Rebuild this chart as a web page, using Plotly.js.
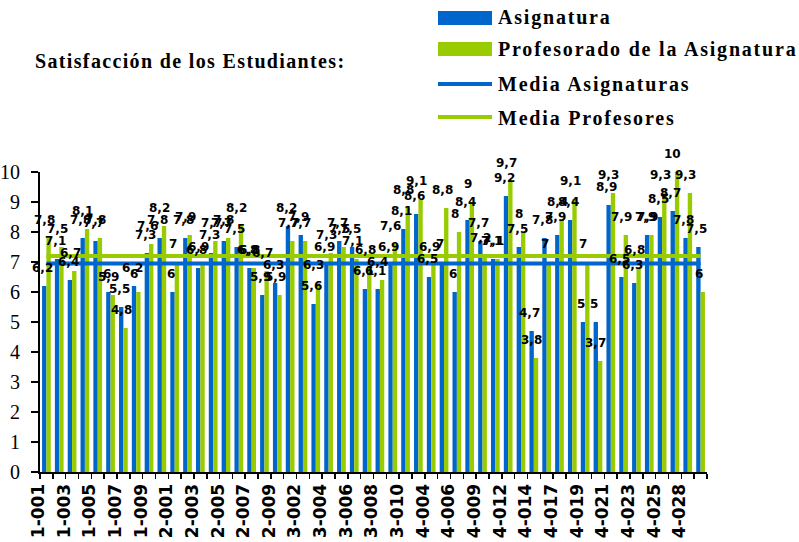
<!DOCTYPE html>
<html><head><meta charset="utf-8">
<script src="https://cdn.plot.ly/plotly-3.0.1.min.js"></script>
<style>html,body{margin:0;padding:0;background:#fff}#chart{width:799px;height:542px}</style>
</head><body><div id="chart"></div>
<script>
const categories = [
  "1-001","1-002","1-003","1-004","1-005","1-006","1-007","1-008","1-009","1-010",
  "2-001","2-002","2-003","2-004","2-005","2-006","2-007","2-008","2-009","2-010",
  "3-002","3-003","3-004","3-005","3-006","3-007","3-008","3-009","3-010","4-002",
  "4-004","4-005","4-006","4-008","4-009","4-010","4-012","4-013","4-014","4-016",
  "4-017","4-018","4-019","4-020","4-021","4-022","4-023","4-024","4-025","4-026",
  "4-028","4-029"];
const asignatura = [
  6.2,7.1,6.4,7.8,7.7,6.0,5.5,6.2,7.3,7.8,
  6.0,7.8,6.8,7.3,7.7,7.5,6.8,5.9,6.3,8.2,
  7.9,5.6,6.9,7.7,7.5,6.1,6.1,6.9,8.1,8.6,
  6.5,7.0,6.0,8.4,7.7,7.1,9.2,7.5,4.7,7.8,
  7.9,8.4,5.0,5.0,8.9,6.5,6.3,7.9,8.5,8.7,
  7.8,7.5];
const profesorado = [
  7.8,7.5,6.7,8.1,7.8,5.9,4.8,6.0,7.6,8.2,
  7.0,7.9,6.9,7.7,7.8,8.2,6.8,6.7,5.9,7.7,
  7.7,6.3,7.3,7.5,7.1,6.8,6.4,7.6,8.8,9.1,
  6.9,8.8,8.0,9.0,7.2,7.1,9.7,8.0,3.8,7.0,
  8.4,9.1,7.0,3.7,9.3,7.9,6.8,7.9,9.3,10,
  9.3,6.0];
const mediaAsignaturas = 6.95;
const mediaProfesores = 7.2;
const seriesNames = ["Asignatura","Profesorado de la Asignatura","Media Asignaturas","Media Profesores"];
const chartTitle = "Satisfacción de los Estudiantes:";

const BLUE = "#0066CC", GREEN = "#99CC00";
const W = 799, H = 542, M = {l:40, r:92, t:172, b:70};
const PW = W - M.l - M.r, PH = H - M.t - M.b;
const px = x => (x - M.l) / PW;
const py = y => (H - M.b - y) / PH;

const fmt = v => String(v).replace('.', ',');

const traces = [
  {type:'bar', name:seriesNames[0], x:categories, y:asignatura, marker:{color:BLUE}, hoverinfo:'x+y'},
  {type:'bar', name:seriesNames[1], x:categories, y:profesorado, marker:{color:GREEN}, hoverinfo:'x+y'},
  {type:'scatter', mode:'lines', name:seriesNames[2], x:categories, y:categories.map(() => mediaAsignaturas), line:{color:BLUE, width:4}},
  {type:'scatter', mode:'lines', name:seriesNames[3], x:categories, y:categories.map(() => mediaProfesores), line:{color:GREEN, width:4}}
];

const labelFont = {family:'DejaVu Sans', size:12, color:'#000'};
const annotations = [];
categories.forEach((c, i) => {
  annotations.push({x:c, y:asignatura[i], xref:'x', yref:'y', text:'<b>'+fmt(asignatura[i])+'</b>', showarrow:false,
    xshift:-4, yshift:18, yanchor:'middle', font:labelFont});
  annotations.push({x:c, y:profesorado[i], xref:'x', yref:'y', text:'<b>'+fmt(profesorado[i])+'</b>', showarrow:false,
    xshift:-2, yshift:18, yanchor:'middle', font:labelFont});
});

const legFont = {family:'Liberation Serif', size:20, color:'#000'};
const sp = (t, s) => '<b><span style="letter-spacing:' + s + 'px">' + t + '</span></b>';
const legendY = [18, 50, 85, 118];
legendY.forEach((y, k) => {
  annotations.push({xref:'paper', yref:'paper', x:px(496), y:py(y), xanchor:'left', yanchor:'middle',
    text:sp(seriesNames[k], 1.8), showarrow:false, font:legFont});
});

const shapes = [
  {type:'rect', xref:'paper', yref:'paper', x0:px(438), x1:px(492), y0:py(25), y1:py(11), fillcolor:BLUE, line:{width:0}},
  {type:'rect', xref:'paper', yref:'paper', x0:px(438), x1:px(492), y0:py(56), y1:py(42), fillcolor:GREEN, line:{width:0}},
  {type:'line', xref:'paper', yref:'paper', x0:px(438), x1:px(492), y0:py(84), y1:py(84), line:{color:BLUE, width:4}},
  {type:'line', xref:'paper', yref:'paper', x0:px(438), x1:px(492), y0:py(117), y1:py(117), line:{color:GREEN, width:4}}
];

const layout = {
  width:W, height:H,
  margin:M,
  paper_bgcolor:'#fff', plot_bgcolor:'#fff',
  showlegend:false,
  barmode:'group', bargap:0.32, bargroupgap:0,
  title:{text:sp(chartTitle, 1.35), xref:'container', yref:'container',
    x:35/W, xanchor:'left', y:1-61/H, yanchor:'middle', font:{family:'Liberation Serif', size:20, color:'#000'}},
  xaxis:{type:'category', showline:true, linecolor:'#000', linewidth:2, ticks:'outside', ticklen:5, tickwidth:1.5,
    tickcolor:'#000', tickson:'boundaries', showgrid:false, zeroline:false,
    tickmode:'array', tickvals:categories, ticktext:categories.map((c,i) => i % 2 === 0 ? '<b>'+c+'</b>' : ''),
    tickangle:-90, tickfont:{family:'DejaVu Sans', size:17, color:'#000'}, ticklabelshift:-8, ticklabelstandoff:3,
    automargin:false, range:[-0.5, categories.length - 0.5]},
  yaxis:{range:[0,10], dtick:1, tick0:0, showline:true, linecolor:'#000', linewidth:2, ticks:'outside', ticklen:7,
    tickwidth:1.5, tickcolor:'#000', showgrid:false, zeroline:false, automargin:false,
    tickfont:{family:'Liberation Serif', size:20, color:'#000'}, ticklabelstandoff:7},
  annotations:annotations,
  shapes:shapes
};

Plotly.newPlot('chart', traces, layout, {displayModeBar:false, staticPlot:true});
</script>
</body></html>
